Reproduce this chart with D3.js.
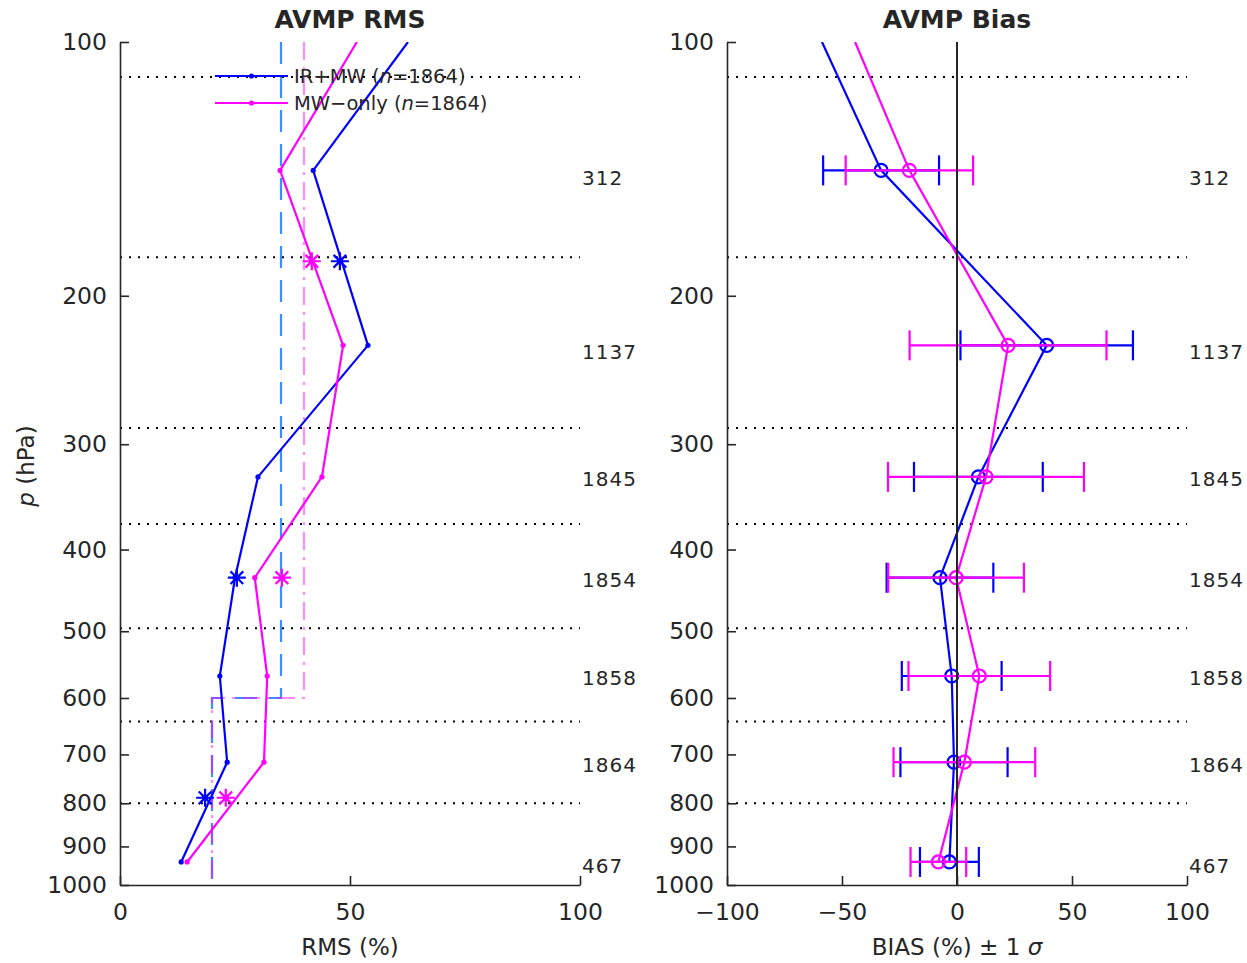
<!DOCTYPE html>
<html>
<head>
<meta charset="utf-8">
<script src="https://cdn.jsdelivr.net/npm/d3@7"></script>
<style>
  body { margin: 0; background: #fff; }
  svg text { font-family: "DejaVu Sans", sans-serif; fill: #262626; }
</style>
</head>
<body>
<svg id="chart" width="1247" height="963"></svg>
<script>
// ---- Layer definitions (hPa) ----
const layerBounds = [110, 180, 287, 373, 496, 640, 800, 1100];
const layerP      = [142, 229, 328, 432, 565, 715, 939];
const layerCounts = [312, 1137, 1845, 1854, 1858, 1864, 467];
const topP = 100;

// ---- Series ----
const seriesNames = ["IR+MW", "MW\u2212only"];
const seriesN     = [1864, 1864];

// RMS (%) per layer
const rmsIRMW = [42.0, 53.9, 30.0, 25.0, 21.7, 23.3, 13.3];
const rmsMW   = [34.8, 48.5, 43.9, 29.3, 32.0, 31.3, 14.6];
const rmsTopIRMW = 62.6;
const rmsTopMW   = 51.5;

// Broad-layer RMS (%) shown as asterisks
const broadP    = [182, 432, 788];
const broadIRMW = [47.8, 25.4, 18.5];
const broadMW   = [41.7, 35.2, 23.0];

// Accuracy requirement (%) above / below 600 hPa
const reqP    = [100, 600, 1000];
const reqIRMW = [35, 20];
const reqMW   = [40, 20];

// Bias (%) and one standard deviation
const biasIRMW  = [-33.0, 39.0, 9.3, -7.4, -2.3, -1.3, -3.3];
const sigmaIRMW = [25.2, 37.5, 28.0, 23.2, 21.7, 23.3, 12.8];
const biasMW    = [-20.7, 22.2, 12.6, -0.4, 9.7, 3.2, -8.1];
const sigmaMW   = [27.7, 42.8, 42.6, 29.5, 30.8, 30.8, 12.1];
const biasTopIRMW = -58.7;
const biasTopMW   = -44.3;

// ---- Axis ticks ----
const pTicks    = [100, 200, 300, 400, 500, 600, 700, 800, 900, 1000];
const rmsTicks  = [0, 50, 100];
const biasTicks = [-100, -50, 0, 50, 100];

// ---- Styling ----
const BLUE = "#0000ff", MAGENTA = "#ff00ff", AXIS = "#262626";

const svg = d3.select("#chart");
const plotTop = 42, plotBottom = 885;
const y = d3.scaleLog().domain([100, 1000]).range([plotTop, plotBottom]);
const xL = d3.scaleLinear().domain([0, 100]).range([120, 580]);
const xR = d3.scaleLinear().domain([-100, 100]).range([727, 1187]);

const minus = s => String(s).replace("-", "\u2212");

function asterisk(r) {
  const a = r * 0.7071;
  return `M${-r},0L${r},0M0,${-r}L0,${r}M${-a},${-a}L${a},${a}M${-a},${a}L${a},${-a}`;
}

function setupPanel(id, x, ticks, title, xlabelParts) {
  const [x0, x1] = x.range();
  const g = svg.append("g");
  svg.append("defs").append("clipPath").attr("id", id)
    .append("rect").attr("x", x0).attr("y", plotTop)
    .attr("width", x1 - x0).attr("height", plotBottom - plotTop);

  // layer boundaries
  g.append("g").selectAll("line")
    .data(layerBounds.filter(p => p > 100 && p < 1000))
    .join("line")
    .attr("x1", x0).attr("x2", x1)
    .attr("y1", d => y(d)).attr("y2", d => y(d))
    .attr("stroke", "#000").attr("stroke-width", 2)
    .attr("stroke-dasharray", "2 7");

  // axes
  const ya = g.append("g").attr("transform", `translate(${x0},0)`)
    .call(d3.axisLeft(y).tickValues(pTicks).tickFormat(d3.format("d"))
      .tickSizeInner(-9).tickSizeOuter(0).tickPadding(13));
  const xa = g.append("g").attr("transform", `translate(0,${plotBottom})`)
    .call(d3.axisBottom(x).tickValues(ticks).tickFormat(d => minus(d))
      .tickSizeInner(-9).tickSizeOuter(0).tickPadding(18));
  [ya, xa].forEach(a => {
    a.selectAll("path,line").attr("stroke", AXIS).attr("stroke-width", 1.6);
    a.selectAll("text").attr("font-size", 23.5).attr("fill", AXIS)
      .style("font-family", "'DejaVu Sans', sans-serif");
  });

  // counts per layer
  g.append("g").selectAll("text")
    .data(layerCounts)
    .join("text")
    .attr("x", x1 + 2)
    .attr("y", (d, i) => y((layerBounds[i] + layerBounds[i + 1]) / 2))
    .attr("dominant-baseline", "central")
    .attr("font-size", 20).attr("letter-spacing", 1)
    .text(d => d);

  // title
  svg.append("text").attr("x", (x0 + x1) / 2).attr("y", 28)
    .attr("text-anchor", "middle").attr("font-size", 25).attr("font-weight", "bold")
    .attr("fill", "#000").text(title);

  // x label
  const xl = svg.append("text").attr("x", (x0 + x1) / 2).attr("y", 955)
    .attr("text-anchor", "middle").attr("font-size", 23);
  xlabelParts.forEach(([t, it]) => xl.append("tspan").attr("font-style", it ? "italic" : null).text(t));

  const plot = svg.append("g").attr("clip-path", `url(#${id})`);
  return { g, plot };
}

// ================= RMS panel =================
const L = setupPanel("clipL", xL, rmsTicks, "AVMP RMS", [["RMS (%)", false]]);

// requirement step lines
function reqPath(v) {
  return d3.line().x(d => xL(d[0])).y(d => y(d[1]))([
    [v[0], reqP[0]], [v[0], reqP[1]], [v[1], reqP[1]], [v[1], reqP[2]]
  ]);
}
L.plot.append("path").attr("d", reqPath(reqIRMW)).attr("fill", "none")
  .attr("stroke", "#2a7fff").attr("stroke-opacity", 0.9).attr("stroke-width", 2.2)
  .attr("stroke-dasharray", "22 12");
L.plot.append("path").attr("d", reqPath(reqMW)).attr("fill", "none")
  .attr("stroke", MAGENTA).attr("stroke-opacity", 0.45).attr("stroke-width", 2.2)
  .attr("stroke-dasharray", "18 7 3 7");

const rmsSeries = [
  { vals: rmsIRMW, topV: rmsTopIRMW, broad: broadIRMW, color: BLUE },
  { vals: rmsMW,   topV: rmsTopMW,   broad: broadMW,   color: MAGENTA }
];
rmsSeries.forEach(s => {
  const pts = [[s.topV, topP]].concat(s.vals.map((v, i) => [v, layerP[i]]));
  L.plot.append("path")
    .attr("d", d3.line().x(d => xL(d[0])).y(d => y(d[1]))(pts))
    .attr("fill", "none").attr("stroke", s.color).attr("stroke-width", 2.2);
  L.plot.append("g").selectAll("circle").data(s.vals).join("circle")
    .attr("cx", d => xL(d)).attr("cy", (d, i) => y(layerP[i])).attr("r", 2.6)
    .attr("fill", s.color);
});
rmsSeries.forEach(s => {
  L.plot.append("g").selectAll("path").data(s.broad).join("path")
    .attr("transform", (d, i) => `translate(${xL(d)},${y(broadP[i])})`)
    .attr("d", asterisk(9)).attr("stroke", s.color).attr("stroke-width", 2.2)
    .attr("fill", "none");
});

// legend
const leg = svg.append("g");
[BLUE, MAGENTA].forEach((c, i) => {
  const ly = 76 + i * 27;
  leg.append("line").attr("x1", 215).attr("x2", 288).attr("y1", ly).attr("y2", ly)
    .attr("stroke", c).attr("stroke-width", 2.2);
  leg.append("circle").attr("cx", 251.5).attr("cy", ly).attr("r", 2.6).attr("fill", c);
  const t = leg.append("text").attr("x", 294).attr("y", ly)
    .attr("dominant-baseline", "central").attr("font-size", 19.5);
  t.append("tspan").text(seriesNames[i] + " (");
  t.append("tspan").attr("font-style", "italic").text("n");
  t.append("tspan").text("=" + seriesN[i] + ")");
});

// y label
const yl = svg.append("text").attr("transform", "translate(34,466) rotate(-90)")
  .attr("text-anchor", "middle").attr("font-size", 23);
yl.append("tspan").attr("font-style", "italic").text("p");
yl.append("tspan").text(" (hPa)");

// ================= Bias panel =================
const R = setupPanel("clipR", xR, biasTicks, "AVMP Bias",
  [["BIAS (%) \u00b1 1 ", false], ["\u03c3", true]]);

const biasSeries = [
  { vals: biasIRMW, sig: sigmaIRMW, topV: biasTopIRMW, color: BLUE },
  { vals: biasMW,   sig: sigmaMW,   topV: biasTopMW,   color: MAGENTA }
];
biasSeries.forEach(s => {
  const pts = [[s.topV, topP]].concat(s.vals.map((v, i) => [v, layerP[i]]));
  R.plot.append("path")
    .attr("d", d3.line().x(d => xR(d[0])).y(d => y(d[1]))(pts))
    .attr("fill", "none").attr("stroke", s.color).attr("stroke-width", 2.2);
  const eb = R.plot.append("g").attr("stroke", s.color).attr("stroke-width", 2.2).attr("fill", "none");
  s.vals.forEach((v, i) => {
    const cy = y(layerP[i]), lo = xR(v - s.sig[i]), hi = xR(v + s.sig[i]);
    eb.append("line").attr("x1", lo).attr("x2", hi).attr("y1", cy).attr("y2", cy);
    eb.append("line").attr("x1", lo).attr("x2", lo).attr("y1", cy - 15).attr("y2", cy + 15);
    eb.append("line").attr("x1", hi).attr("x2", hi).attr("y1", cy - 15).attr("y2", cy + 15);
    eb.append("circle").attr("cx", xR(v)).attr("cy", cy).attr("r", 6.5);
  });
});

// zero-bias reference
svg.append("line").attr("x1", xR(0)).attr("x2", xR(0)).attr("y1", plotTop).attr("y2", plotBottom)
  .attr("stroke", AXIS).attr("stroke-width", 2);
</script>
</body>
</html>
